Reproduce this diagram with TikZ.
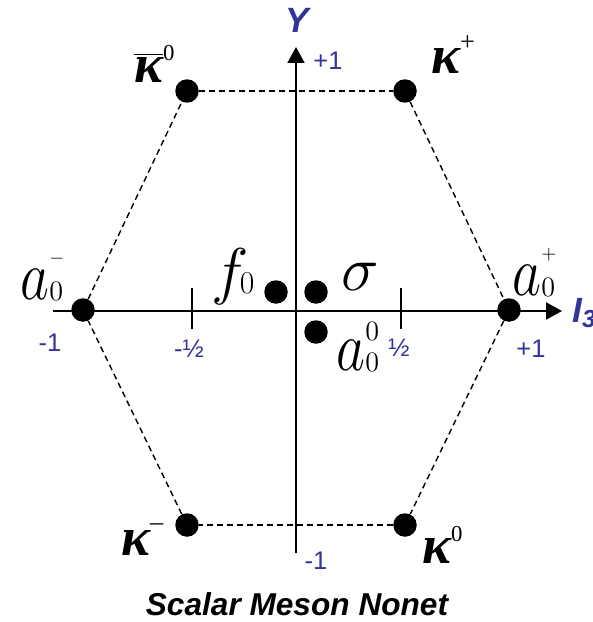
\RequirePackage{fix-cm}
\documentclass[tikz,border=0pt]{standalone}
\usepackage{fontspec}
\usepackage{graphicx}
\setsansfont{Liberation Sans}
\newfontfamily\kapfont{Liberation Serif}
\usetikzlibrary{arrows.meta}
\definecolor{axisblue}{RGB}{51,51,153}
\newcommand\idxsz{\fontsize{16}{16}\selectfont}
\newcommand\pmsz{\fontsize{11}{11}\selectfont}
\newcommand\kapsz{\fontsize{31}{31}\selectfont}
\newcommand\tallA{\scalebox{0.8}[1]{$a$}}
\newcommand\kapsym{{\kapfont\bfseries\itshape κ}}
\newcommand\supsub[3]{\makebox[0pt][l]{\raisebox{#1}{#3}}\raisebox{-1pt}{\idxsz$#2$}}
\newcommand\kapsup[2]{\raisebox{#1}{\kapfont\fontsize{13}{13}\selectfont #2}}

\begin{document}
\begin{tikzpicture}[x=0.02cm, y=-0.02cm, >={Triangle[length=0.32cm, width=0.34cm]},
    axis/.style={line width=0.04cm, ->},
    hexline/.style={line width=0.028cm, dash pattern=on 0.12cm off 0.08cm},
    meson/.style={circle, fill, inner sep=0pt, minimum size=0.47cm},
    ptl/.style={inner sep=0pt, anchor=base west},
    unit/.style={text=axisblue, font=\sffamily\fontsize{14.5}{14.5}\selectfont, inner sep=0pt},
    axlbl/.style={text=axisblue, font=\sffamily\bfseries\itshape\fontsize{20}{20}\selectfont, inner sep=0pt},
    caption/.style={font=\sffamily\bfseries\itshape\fontsize{18}{18}\selectfont, inner sep=0pt}]
  \useasboundingbox (0,0) rectangle (592,622);
  % axes
  \coordinate (xleft) at (53,311);
  \coordinate (xright) at (562,311);
  \coordinate (ybot) at (296,553);
  \coordinate (ytop) at (296,47);
  \draw[axis] (xleft) -- (xright);
  \draw[axis] (ybot) -- (ytop);
  \draw[line width=0.04cm] (192,288) -- (192,329) (401,288) -- (401,329);
  % the nine mesons
  \node[meson] (kbar) at (187,91) {};
  \node[meson] (kplus) at (405,91) {};
  \node[meson] (aminus) at (83,310) {};
  \node[meson] (aplus) at (509,310) {};
  \node[meson] (kminus) at (187,525) {};
  \node[meson] (kzero) at (405,525) {};
  \node[meson] (fzero) at (276,292) {};
  \node[meson] (sigma) at (316,292) {};
  \node[meson] (azero) at (316,332) {};
  \draw[hexline] (kbar) -- (kplus);
  \draw[hexline] (kplus) -- (aplus);
  \draw[hexline] (aplus) -- (kzero);
  \draw[hexline] (kzero) -- (kminus);
  \draw[hexline] (kminus) -- (aminus);
  \draw[hexline] (aminus) -- (kbar);
  % particle names
  \node[ptl] (kbar-lbl) at (134,82) {\kapsz$\overline{\hbox{\kapsym}}$\kapsup{12pt}{0}};
  \node[ptl] (kplus-lbl) at (431,73) {\kapsz\kapsym\kapsup{13pt}{\fontsize{15}{15}\selectfont +}};
  \node[ptl] (kminus-lbl) at (121,555) {\kapsz\kapsym\kapsup{14pt}{\fontsize{15}{15}\selectfont –}};
  \node[ptl] (kzero-lbl) at (422,563) {\kapsz\kapsym\kapsup{12pt}{0}};
  \node[ptl] (aminus-lbl) at (20,299) {\fontsize{40}{40}\selectfont\tallA\supsub{20pt}{0}{\pmsz$-$}};
  \node[ptl] (aplus-lbl) at (512,295) {\fontsize{40}{40}\selectfont\tallA\supsub{20pt}{0}{\pmsz$+$}};
  \node[ptl] (azero-lbl) at (336,370) {\fontsize{40}{40}\selectfont\tallA\supsub{17pt}{0}{\idxsz$0$}};
  \node[ptl] (fzero-lbl) at (211,292) {\fontsize{36}{36}\selectfont$f$\hspace{-5pt}\raisebox{-1pt}{\fontsize{18}{18}\selectfont$0$}};
  \node[ptl] (sigma-lbl) at (341,290) {\fontsize{36}{36}\selectfont$\sigma$};
  % axis values
  \node[unit] (yp1) at (328,61) {+1};
  \node[unit] (ym1) at (316,561) {-1};
  \node[unit] (xm1) at (50,343) {-1};
  \node[unit] (xmh) at (189,349) {-½};
  \node[unit] (xph) at (399,348) {½};
  \node[unit] (xp1) at (531,349) {+1};
  \node[axlbl] (ylbl) at (297,20) {Y};
  \node[axlbl, anchor=base west] (xlbl) at (572,322) {I\textsubscript{3}};
  \node[caption] (title) at (297,604) {Scalar Meson Nonet};
\end{tikzpicture}
\end{document}
